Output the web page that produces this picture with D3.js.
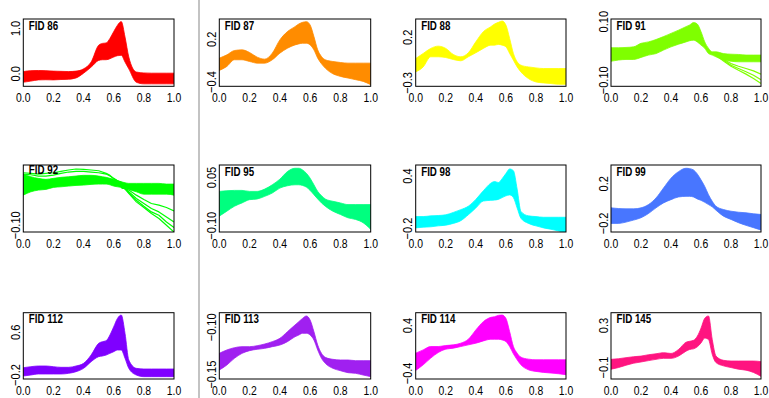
<!DOCTYPE html>
<html>
<head>
<meta charset="utf-8">
<script src="https://cdnjs.cloudflare.com/ajax/libs/d3/7.8.5/d3.min.js"></script>
<style>
  body { margin: 0; background: #fff; }
  text { font-family: "Liberation Sans", Arial, Helvetica, sans-serif; }
</style>
</head>
<body>
<div id="chart"></div>
<script>
// common grid of the functional curves (0..1)
const xs = [0, 0.05, 0.1, 0.15, 0.2, 0.25, 0.3, 0.35, 0.4, 0.45, 0.5, 0.525, 0.55, 0.575,
            0.6, 0.625, 0.65, 0.675, 0.7, 0.75, 0.8, 0.85, 0.9, 0.95, 1];
const xTicks = [0, 0.2, 0.4, 0.6, 0.8, 1.0];

const ids = ["FID 86", "FID 87", "FID 88", "FID 91", "FID 92", "FID 95",
             "FID 98", "FID 99", "FID 112", "FID 113", "FID 114", "FID 145"];

// upper / lower envelope of each bundle of curves
const fid86Hi = [0.05,0.07,0.074,0.07,0.06,0.055,0.05,0.06,0.11,0.26,0.63,0.67,0.68,0.78,0.93,1.07,1.15,0.81,0.37,0.04,0.02,0.015,0.015,0.015,0.015];
const fid86Lo = [-0.185,-0.16,-0.133,-0.13,-0.133,-0.125,-0.119,-0.09,0.015,0.148,0.296,0.31,0.311,0.333,0.37,0.4,0.407,0.26,0.11,-0.185,-0.22,-0.22,-0.22,-0.22,-0.22];

const fid87Hi = [-0.065,-0.019,0.042,0.051,0.014,-0.051,-0.079,0.005,0.191,0.307,0.377,0.414,0.437,0.447,0.4,0.237,0.051,-0.042,-0.088,-0.112,-0.126,-0.135,-0.135,-0.135,-0.135];
const fid87Lo = [-0.237,-0.181,-0.088,-0.088,-0.112,-0.135,-0.135,-0.088,0.005,0.074,0.121,0.135,0.144,0.144,0.121,0.051,-0.065,-0.144,-0.205,-0.284,-0.321,-0.344,-0.367,-0.391,-0.437];

const fid88Hi = [-0.032,0.024,0.079,0.104,0.079,0.013,-0.013,0.031,0.152,0.263,0.318,0.347,0.365,0.38,0.336,0.189,0.024,-0.068,-0.105,-0.124,-0.135,-0.142,-0.142,-0.142,-0.142];
const fid88Lo = [-0.179,-0.124,-0.013,-0.013,-0.021,-0.043,-0.057,-0.013,0.031,0.079,0.115,0.115,0.123,0.115,0.097,0.024,-0.05,-0.124,-0.179,-0.252,-0.289,-0.3,-0.307,-0.315,-0.315];

const fid91Hi = [0.011,0.011,0.012,0.014,0.026,0.031,0.039,0.049,0.06,0.071,0.083,0.089,0.097,0.092,0.066,0.031,0.009,-0.003,-0.003,-0.009,-0.011,-0.012,-0.014,-0.014,-0.014];
const fid91Lo = [-0.035,-0.031,-0.029,-0.029,-0.022,-0.014,-0.009,0.003,0.014,0.023,0.031,0.035,0.037,0.031,0.02,0.009,-0.009,-0.014,-0.02,-0.031,-0.035,-0.037,-0.037,-0.037,-0.037];
const fid91Fan1 = [null,null,null,null,null,null,null,null,null,null,null,null,null,null,null,null,null,null,-0.01,-0.029,-0.043,-0.052,-0.06,-0.068,-0.079];
const fid91Fan2 = [null,null,null,null,null,null,null,null,null,null,null,null,null,null,null,null,null,null,-0.012,-0.031,-0.049,-0.06,-0.071,-0.083,-0.098];
const fid91Fan3 = [null,null,null,null,null,null,null,null,null,null,null,null,null,null,null,null,null,null,-0.015,-0.034,-0.052,-0.066,-0.079,-0.094,-0.111];

const fid92Hi = [-0.049,-0.0517,-0.0533,-0.0543,-0.0533,-0.0523,-0.0517,-0.051,-0.0503,-0.0503,-0.051,-0.0517,-0.0523,-0.0533,-0.0543,-0.0557,-0.0567,-0.0577,-0.0583,-0.0583,-0.0583,-0.0583,-0.0583,-0.059,-0.059];
const fid92Lo = [-0.07,-0.0667,-0.065,-0.0643,-0.0623,-0.0617,-0.061,-0.0603,-0.06,-0.0593,-0.059,-0.059,-0.059,-0.0597,-0.061,-0.0617,-0.0623,-0.0633,-0.0643,-0.0667,-0.069,-0.069,-0.069,-0.069,-0.07];
const fid92Top1 = [-0.0477,-0.0483,-0.049,-0.0483,-0.0477,-0.0463,-0.045,-0.044,-0.0443,-0.045,-0.0457,-0.047,-0.0483,-0.0503,-0.0533,-0.0557,-0.0573,null,null,null,null,null,null,null,null];
const fid92Top2 = [-0.049,-0.0497,-0.051,-0.051,-0.05,-0.0483,-0.047,-0.0463,-0.0463,-0.047,-0.0477,-0.0483,-0.049,-0.051,-0.0537,-0.0557,-0.0573,null,null,null,null,null,null,null,null];
const fid92Drop1 = [null,null,null,null,null,null,null,null,null,null,null,null,null,null,null,null,-0.0623,-0.0637,-0.065,-0.07,-0.0743,-0.0783,-0.08,-0.0823,-0.0857];
const fid92Drop2 = [null,null,null,null,null,null,null,null,null,null,null,null,null,null,null,null,-0.0623,-0.0637,-0.0667,-0.0733,-0.0783,-0.0833,-0.0867,-0.0917,-0.0967];
const fid92Drop3 = [null,null,null,null,null,null,null,null,null,null,null,null,null,null,null,null,-0.0623,-0.0637,-0.0677,-0.075,-0.081,-0.0867,-0.09,-0.0967,-0.1023];
const fid92Drop4 = [null,null,null,null,null,null,null,null,null,null,null,null,null,null,null,null,-0.0623,-0.0637,-0.0683,-0.0767,-0.0823,-0.0883,-0.0933,-0.1,-0.1067];

const fid95Hi = [0.0068,0.0089,0.0099,0.0099,0.0068,0.0068,0.014,0.0274,0.0449,0.0685,0.0788,0.0788,0.0736,0.0634,0.0479,0.0274,0.0068,-0.0065,-0.0168,-0.024,-0.0291,-0.0343,-0.0343,-0.0343,-0.0343];
const fid95Lo = [-0.0702,-0.0548,-0.0394,-0.0291,-0.0189,-0.0168,-0.0086,0.0017,0.0171,0.0243,0.0274,0.0274,0.0253,0.0202,0.0099,-0.0034,-0.0168,-0.0291,-0.0394,-0.0548,-0.0651,-0.0754,-0.0805,-0.0908,-0.1114];

const fid98Hi = [-0.063,-0.063,-0.055,-0.051,-0.043,-0.016,0.016,0.055,0.133,0.231,0.318,0.337,0.325,0.369,0.427,0.48,0.46,0.25,-0.004,-0.055,-0.063,-0.071,-0.071,-0.071,-0.071];
const fid98Lo = [-0.192,-0.184,-0.18,-0.169,-0.161,-0.141,-0.11,-0.043,0.035,0.114,0.122,0.125,0.133,0.153,0.173,0.184,0.153,0.035,-0.082,-0.141,-0.169,-0.192,-0.208,-0.227,-0.247];

const fid99Hi = [-0.043,-0.05,-0.053,-0.053,-0.043,-0.01,0.057,0.157,0.257,0.323,0.357,0.353,0.34,0.3,0.24,0.173,0.09,0.023,-0.027,-0.06,-0.077,-0.087,-0.093,-0.103,-0.11];
const fid99Lo = [-0.2,-0.2,-0.187,-0.167,-0.143,-0.1,-0.043,0.007,0.04,0.067,0.073,0.073,0.067,0.047,0.033,0.013,-0.01,-0.033,-0.067,-0.127,-0.16,-0.193,-0.22,-0.243,-0.267];

const fid112Hi = [-0.0625,-0.044,-0.031,-0.031,-0.044,-0.056,-0.056,-0.031,0.019,0.175,0.394,0.425,0.444,0.55,0.706,0.8625,0.925,0.581,0.081,-0.075,-0.0875,-0.0875,-0.0875,-0.0875,-0.0875];
const fid112Lo = [-0.219,-0.2,-0.181,-0.181,-0.181,-0.181,-0.169,-0.1375,-0.075,0.05,0.144,0.156,0.175,0.206,0.2375,0.269,0.269,0.1125,-0.075,-0.2,-0.231,-0.231,-0.231,-0.231,-0.231];

const fid113Hi = [-0.1275,-0.1239,-0.1215,-0.1204,-0.1204,-0.1194,-0.1176,-0.1151,-0.1116,-0.1046,-0.0975,-0.094,-0.0905,-0.088,-0.0923,-0.1046,-0.1187,-0.1275,-0.1317,-0.1338,-0.1345,-0.1345,-0.1352,-0.1352,-0.1352];
const fid113Lo = [-0.1451,-0.1398,-0.1327,-0.1275,-0.1246,-0.1232,-0.1222,-0.1204,-0.1187,-0.1151,-0.1099,-0.1081,-0.1063,-0.1063,-0.1081,-0.1134,-0.1239,-0.1327,-0.138,-0.1433,-0.1458,-0.1479,-0.1486,-0.1504,-0.1521];

const fid114Hi = [-0.061,-0.006,0.05,0.05,0.067,0.078,0.106,0.172,0.328,0.467,0.539,0.55,0.572,0.578,0.522,0.3,0.05,-0.061,-0.128,-0.161,-0.172,-0.172,-0.172,-0.172,-0.172];
const fid114Lo = [-0.35,-0.256,-0.144,-0.05,0.006,0.022,0.05,0.078,0.106,0.144,0.172,0.172,0.172,0.161,0.133,0.05,-0.072,-0.172,-0.256,-0.339,-0.367,-0.383,-0.394,-0.406,-0.422];

const fid145Hi = [-0.022,-0.016,-0.006,0.003,0.009,0.022,0.031,0.041,0.034,0.072,0.141,0.15,0.159,0.197,0.275,0.369,0.391,0.166,0.009,-0.031,-0.038,-0.038,-0.038,-0.038,-0.044];
const fid145Lo = [-0.116,-0.1,-0.078,-0.059,-0.047,-0.034,-0.022,-0.0125,-0.0125,0.009,0.056,0.072,0.078,0.097,0.134,0.181,0.166,0.025,-0.053,-0.084,-0.1,-0.116,-0.125,-0.147,-0.184];

// y axis ranges and the tick labels R kept
const yDomains = [[-0.274, 1.207], [-0.46, 0.484], [-0.337, 0.402], [-0.1206, 0.1091],
                  [-0.1067, -0.04], [-0.1196, 0.089], [-0.239, 0.525], [-0.287, 0.39],
                  [-0.275, 0.969], [-0.1546, -0.0845], [-0.494, 0.617], [-0.209, 0.422]];
const yLabels = [[0, 1], [-0.4, 0.2], [-0.3, 0.2], [-0.1, 0.1],
                 [-0.1], [-0.1, 0.05], [-0.2, 0.4], [-0.2, 0.2],
                 [-0.2, 0.6], [-0.15, -0.1], [-0.4, 0.4], [-0.1, 0.3]];
const yDigits = [1, 1, 1, 2, 2, 2, 1, 1, 1, 2, 1, 1];

const colors = ["#ff0000", "#ff8c00", "#ffff00", "#7fff00", "#00ff00", "#00ff7f",
                "#00ffff", "#4876ff", "#7f00ff", "#a020f0", "#ff00ff", "#ff1480"];

const bands = [
  [fid86Hi, fid86Lo], [fid87Hi, fid87Lo], [fid88Hi, fid88Lo], [fid91Hi, fid91Lo],
  [fid92Hi, fid92Lo], [fid95Hi, fid95Lo], [fid98Hi, fid98Lo], [fid99Hi, fid99Lo],
  [fid112Hi, fid112Lo], [fid113Hi, fid113Lo], [fid114Hi, fid114Lo], [fid145Hi, fid145Lo]
];
const extraLines = {
  3: [fid91Fan1, fid91Fan2, fid91Fan3],
  4: [fid92Top1, fid92Top2, fid92Drop1, fid92Drop2, fid92Drop3, fid92Drop4]
};

// layout of the 4 x 3 grid
const W = 769, H = 398;
const colLeft = [23.3, 219.3, 415.7, 611], colRight = [174, 370.7, 566, 761];
const rowTop = [19, 165, 312.7], rowBottom = [86.3, 232, 379];
const squeeze = 0.8;   // the lettering in the picture is narrow

const svg = d3.select('#chart').append('svg')
  .attr('width', W).attr('height', H)
  .style('display', 'block');
svg.append('rect').attr('width', W).attr('height', H).attr('fill', '#fff');

// faint separator seen in the picture
svg.append('line')
  .attr('x1', 199).attr('x2', 199).attr('y1', 0).attr('y2', H)
  .attr('stroke', '#b4b4b4').attr('stroke-width', 1.6);

ids.forEach((id, i) => {
  const c = i % 4, r = Math.floor(i / 4);
  const x0 = colLeft[c], x1 = colRight[c], y0 = rowTop[r], y1 = rowBottom[r];

  const xScale = d3.scaleLinear().domain([0, 1]).range([x0, x1]);
  const yScale = d3.scaleLinear().domain(yDomains[i]).range([y1, y0]);

  const g = svg.append('g');
  g.append('defs').append('clipPath').attr('id', 'clip' + i)
    .append('rect').attr('x', x0).attr('y', y0).attr('width', x1 - x0).attr('height', y1 - y0);

  const plot = g.append('g').attr('clip-path', 'url(#clip' + i + ')');
  const [hi, lo] = bands[i];
  const rows = xs.map((x, k) => ({ x: x, hi: hi[k], lo: lo[k] }));

  const area = d3.area()
    .x(d => xScale(d.x))
    .y0(d => yScale(d.lo))
    .y1(d => yScale(d.hi))
    .curve(d3.curveMonotoneX);
  plot.append('path').datum(rows)
    .attr('d', area)
    .attr('fill', colors[i])
    .attr('stroke', colors[i])
    .attr('stroke-width', 0.8);

  const line = d3.line()
    .defined(d => d.v !== null)
    .x(d => xScale(d.x))
    .y(d => yScale(d.v))
    .curve(d3.curveLinear);
  (extraLines[i] || []).forEach(arr => {
    plot.append('path')
      .datum(xs.map((x, k) => ({ x: x, v: arr[k] })))
      .attr('d', line)
      .attr('fill', 'none')
      .attr('stroke', colors[i])
      .attr('stroke-width', 1.2)
      .attr('stroke-linejoin', 'round');
  });

  // box
  g.append('rect')
    .attr('x', x0).attr('y', y0).attr('width', x1 - x0).attr('height', y1 - y0)
    .attr('fill', 'none').attr('stroke', '#000').attr('stroke-width', 1);

  // x tick labels
  g.selectAll('.xl').data(xTicks).enter().append('text')
    .attr('transform', d => 'translate(' + xScale(d) + ',' + (y1 + 16) + ') scale(' + squeeze + ',1)')
    .attr('text-anchor', 'middle')
    .attr('font-size', 13)
    .attr('fill', '#000')
    .text(d => d3.format('.1f')(d));

  // y tick labels (rotated, like R's default)
  const fmt = d3.format('.' + yDigits[i] + 'f');
  g.selectAll('.yl').data(yLabels[i]).enter().append('text')
    .attr('transform', d => 'translate(' + (x0 - 3.5) + ',' + yScale(d) + ') rotate(-90) scale(0.85,1)')
    .attr('text-anchor', 'middle')
    .attr('font-size', 13)
    .attr('fill', '#000')
    .text(d => fmt(d));

  // panel title
  g.append('text')
    .attr('transform', 'translate(' + (x0 + 5.5) + ',' + (y0 + (i === 4 ? 8.5 : 10.5)) + ') scale(' + squeeze + ',1)')
    .attr('font-size', 12.2)
    .attr('font-weight', 'bold')
    .attr('fill', '#000')
    .text(id);
});
</script>
</body>
</html>
